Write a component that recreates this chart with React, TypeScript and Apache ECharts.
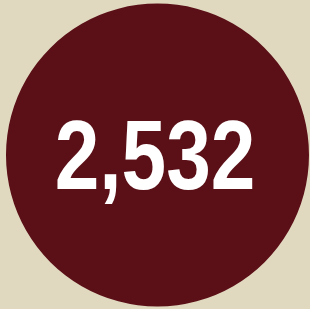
import React, { useEffect, useRef } from "react";
import * as echarts from "echarts";

const labels: string[] = ["Total"];
const values: number[] = [2532];

export default function App() {
  const ref = useRef<HTMLDivElement>(null);
  useEffect(() => {
    if (!ref.current) return;
    const chart = echarts.init(ref.current, undefined, { renderer: "svg" });
    chart.setOption({
      animation: false,
      backgroundColor: "#e0d8bf",
      series: [
        {
          type: "pie",
          center: [157.5, 155],
          radius: [0, 151.5],
          silent: true,
          itemStyle: { color: "#5b0f17" },
          label: { show: false },
          labelLine: { show: false },
          data: labels.map((n, i) => ({ name: n, value: values[i] })),
        },
      ],
      graphic: [
        {
          type: "text",
          x: 155,
          y: 154.5,
          z: 100,
          scaleX: 0.81,
          silent: true,
          style: {
            text: values[0].toLocaleString("en-US"),
            fill: "#ffffff",
            fontFamily: "'Liberation Sans', Arial, sans-serif",
            fontWeight: "bold",
            fontSize: 99,
            align: "center",
            verticalAlign: "middle",
          },
        },
      ],
    });
    return () => chart.dispose();
  }, []);
  return (
    <div
      ref={ref}
      style={{ position: "absolute", left: 0, top: 0, width: 310, height: 309 }}
    />
  );
}
